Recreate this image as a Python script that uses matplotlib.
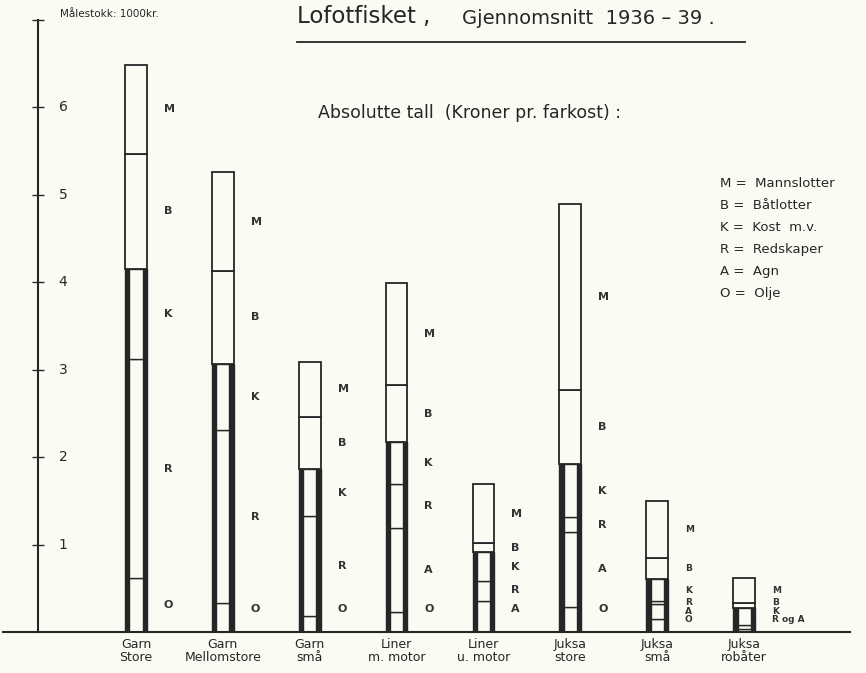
import matplotlib.pyplot as plt
from matplotlib.lines import Line2D

# Lofotfisket, average 1936-39, kroner per boat (in 1000 kr)
categories = ['Garn\nStore', 'Garn\nMellomstore', 'Garn\nsmå', 'Liner\nm. motor',
              'Liner\nu. motor', 'Juksa\nstore', 'Juksa\nsmå', 'Juksa\nrobåter']
olje = [0.62, 0.33, 0.18, 0.23, 0.00, 0.29, 0.15, 0.00]
agn = [0.00, 0.00, 0.00, 0.96, 0.35, 0.85, 0.17, 0.03]
redskaper = [2.50, 1.98, 1.15, 0.50, 0.23, 0.17, 0.03, 0.05]
kost = [1.03, 0.76, 0.53, 0.48, 0.33, 0.61, 0.26, 0.19]
batlotter = [1.32, 1.06, 0.60, 0.65, 0.11, 0.85, 0.24, 0.06]
mannslotter = [1.02, 1.13, 0.63, 1.17, 0.67, 2.13, 0.65, 0.29]

legend_lines = ['M =  Mannslotter', 'B =  Båtlotter', 'K =  Kost  m.v.',
                'R =  Redskaper', 'A =  Agn', 'O =  Olje']

bg = '#fbfbf4'
ink = '#262626'

fig = plt.figure(figsize=(8.66, 6.73), dpi=100, facecolor=bg)
W, H = 866, 673
ax = fig.add_axes([38 / W, 41 / H, (W - 38) / W, (632 - 20) / H])
ax.set_facecolor(bg)

x = list(range(len(categories)))
w = 0.25

for i in x:
    cost_parts = [('O', olje[i]), ('A', agn[i]), ('R', redskaper[i]), ('K', kost[i])]
    lot_parts = [('B', batlotter[i]), ('M', mannslotter[i])]
    cost_total = sum(v for _, v in cost_parts)

    # heavy outline for the cost part
    ax.bar(i, cost_total, width=w, color=ink, edgecolor=ink, lw=1)
    bottom = 0
    segs = []
    for name, v in cost_parts:
        if v > 0:
            ax.bar(i, v, width=w * 0.6, bottom=bottom, color=bg, edgecolor=ink, lw=1)
            segs.append((name, bottom + v / 2))
        bottom += v
    for name, v in lot_parts:
        ax.bar(i, v, width=w, bottom=bottom, color=bg, edgecolor=ink, lw=1.3)
        segs.append((name, bottom + v / 2))
        bottom += v

    # letters to the right of each bar, pushed apart when segments are thin
    small = bottom < 1.6
    gap = 0.1 if small else 0.22
    fs = 6.5 if small else 8
    prev = 0.04
    if i == len(x) - 1:
        segs = [('R og A', 0.0)] + [s for s in segs if s[0] not in ('R', 'A')]
    for name, y in segs:
        y = max(y, prev + gap)
        prev = y
        ax.text(i + 0.32, y, name, fontsize=fs, fontweight='bold', color='#333333',
                ha='left', va='center')

ax.set_xlim(-98 / 86.86, -98 / 86.86 + 828 / 86.86)
ax.set_ylim(0, 7)
for s in ['top', 'right']:
    ax.spines[s].set_visible(False)
ax.spines['left'].set_color(ink)
ax.spines['bottom'].set_color(ink)
ax.spines['left'].set_linewidth(1.5)
ax.spines['bottom'].set_linewidth(1.5)
ax.spines['bottom'].set_bounds(ax.get_xlim()[0], 8.22)

ax.set_yticks(range(1, 8))
ax.set_yticklabels([])
ax.tick_params(axis='y', direction='inout', length=9, width=1, color=ink)
for v in range(1, 7):
    ax.text(0.025, v, str(v), transform=ax.get_yaxis_transform(), fontsize=10,
            color=ink, ha='left', va='center')

ax.set_xticks(x)
ax.set_xticklabels(categories, fontsize=9, color=ink, linespacing=1.0)
ax.tick_params(axis='x', length=0, pad=4)

# baseline reaches a bit left of the axis
fig.add_artist(Line2D([3 / W, 38 / W], [41 / H, 41 / H], color=ink, lw=1.5))

fig.text(60 / W, 1 - 14 / H, 'Målestokk: 1000kr.', fontsize=7.5, color=ink, va='center')
fig.text(297 / W, 1 - 16 / H, 'Lofotfisket ,', fontsize=16.5, color=ink, va='center')
fig.text(462 / W, 1 - 18 / H, 'Gjennomsnitt  1936 – 39 .', fontsize=14, color=ink, va='center')
fig.add_artist(Line2D([297 / W, 745 / W], [1 - 42 / H, 1 - 42 / H], color=ink, lw=1.3))
fig.text(318 / W, 1 - 113 / H, 'Absolutte tall  (Kroner pr. farkost) :', fontsize=12.5,
         color=ink, va='center')

for k, line in enumerate(legend_lines):
    fig.text(720 / W, 1 - (184 + 21.8 * k) / H, line, fontsize=9.5, color=ink, va='center')

plt.savefig('out.png', dpi=100, facecolor=bg)
plt.close()
